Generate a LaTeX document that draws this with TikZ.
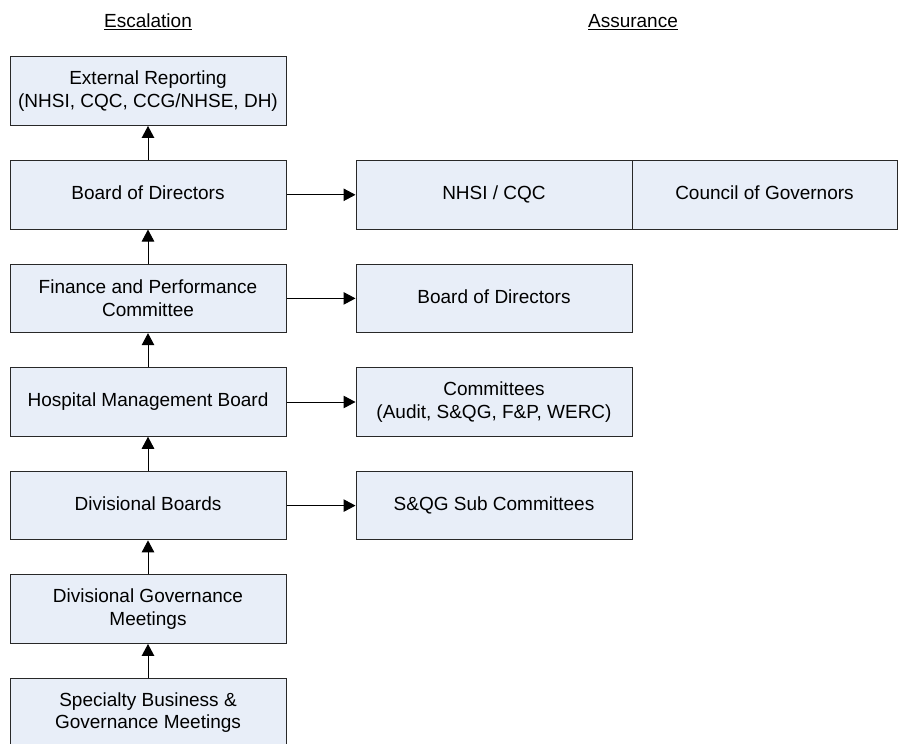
\documentclass[tikz,border=0pt]{standalone}
\usepackage{fontspec}
\setmainfont{Liberation Sans}
\usetikzlibrary{arrows.meta}
\definecolor{boxfill}{RGB}{232,238,248}
\definecolor{boxline}{RGB}{40,40,40}
\newcommand{\onestrut}{\rule[-3.4pt]{0pt}{17pt}}
\tikzset{
  box/.style={draw=boxline, line width=1pt, fill=boxfill, minimum width=276pt, minimum height=68.5pt,
    inner sep=0pt, align=center, font=\fontsize{19}{22.5}\selectfont},
  arr/.style={line width=1pt, -{Triangle[length=12pt,width=12.5pt]}},
  title/.style={font=\fontsize{19}{22.5}\selectfont, inner sep=0pt}
}
\begin{document}
\begin{tikzpicture}[x=1pt,y=-1pt]
\useasboundingbox (0,0) rectangle (898,744);
\clip (0,0) rectangle (898,744);
\node[title] (esc) at (148,22) {\underline{Escalation}};
\node[title] (ass) at (633,22) {\underline{Assurance}};
% left column
\node[box] (ext) at (148,91.2) {External Reporting\\(NHSI, CQC, CCG/NHSE, DH)};
\node[box] (bod) at (148,194.8) {\onestrut Board of Directors};
\node[box] (fin) at (148,298.4) {Finance and Performance\\Committee};
\node[box] (hmb) at (148,402) {\onestrut Hospital Management Board};
\node[box] (div) at (148,505.6) {\onestrut Divisional Boards};
\node[box] (dgm) at (148,609.2) {Divisional Governance\\Meetings};
\node[box] (sbg) at (148,712.8) {Specialty Business \&\\Governance Meetings};
% right column
\node[box] (nhsi) at (494,194.8) {\onestrut NHSI / CQC};
\node[box, minimum width=265pt] (cog) at (764.5,194.8) {\onestrut Council of Governors};
\node[box] (bod2) at (494,298.4) {\onestrut Board of Directors};
\node[box] (com) at (494,402) {Committees\\(Audit, S\&QG, F\&P, WERC)};
\node[box] (sqg) at (494,505.6) {\onestrut S\&QG Sub Committees};
% vertical arrows
\draw[arr] (bod.north) -- (ext.south);
\draw[arr] (fin.north) -- (bod.south);
\draw[arr] (hmb.north) -- (fin.south);
\draw[arr] (div.north) -- (hmb.south);
\draw[arr] (dgm.north) -- (div.south);
\draw[arr] (sbg.north) -- (dgm.south);
% horizontal arrows
\draw[arr] (bod.east) -- (nhsi.west);
\draw[arr] (fin.east) -- (bod2.west);
\draw[arr] (hmb.east) -- (com.west);
\draw[arr] (div.east) -- (sqg.west);
\end{tikzpicture}
\end{document}
